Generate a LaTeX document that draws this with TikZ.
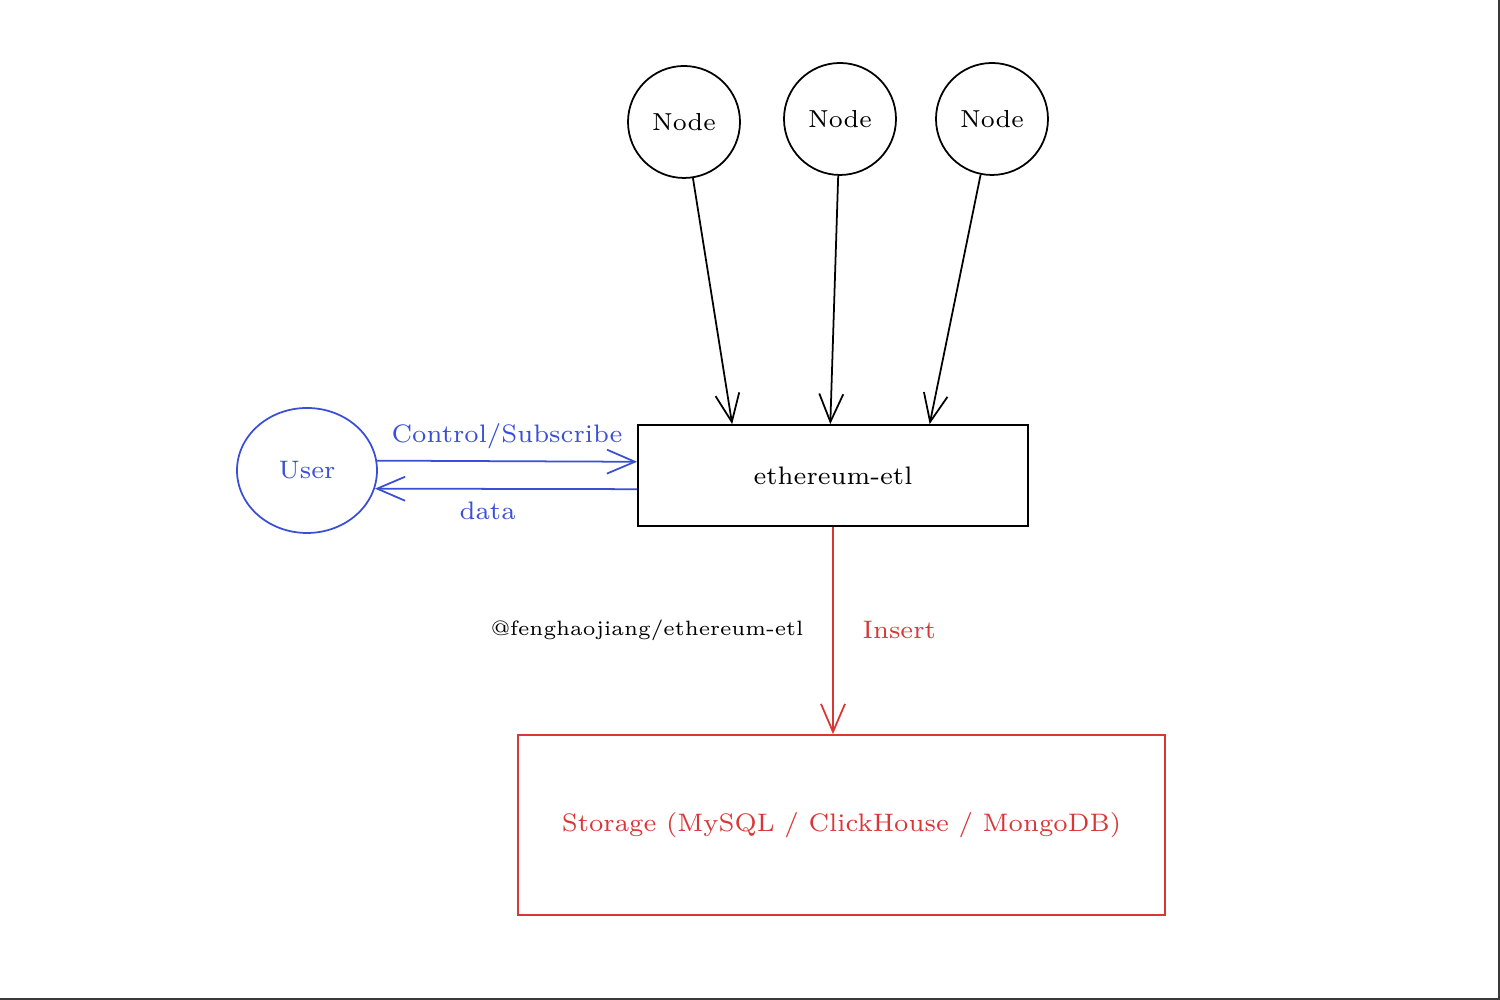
\documentclass[tikz,border=0pt]{standalone}
\usepackage{tikz}
\usetikzlibrary{arrows.meta,positioning,shapes.geometric}
\definecolor{userblue}{HTML}{3B4FD6}
\definecolor{storered}{HTML}{D93636}
\definecolor{framegray}{HTML}{3A3A3A}

\begin{document}
\begin{tikzpicture}
[peer/.style={circle,draw=black,line width=0.5pt,minimum size=1.12cm,inner sep=0pt,font=\fontsize{7}{9}\selectfont},
 box/.style={rectangle,draw=black,line width=0.5pt,inner sep=0pt},
 flow/.style={line width=0.5pt,-{Straight Barb[length=2.8mm,width=2.4mm]}},
 tag/.style={font=\fontsize{7.2}{9}\selectfont}]
\useasboundingbox (0,0) rectangle (15,10);
\draw [framegray,line width=1.2pt] (15,10) -- (15,0) -- (0,0);

\node[peer] (n1) at (6.84,8.78) {Node};
\node[peer] (n2) at (8.40,8.81) {Node};
\node[peer] (n3) at (9.92,8.81) {Node};
\node[box,minimum width=3.90cm,minimum height=1.01cm,tag] (etl) at (8.33,5.245) {ethereum-etl};
\node[ellipse,draw=userblue,line width=0.5pt,minimum width=1.40cm,minimum height=1.25cm,inner sep=0pt,text=userblue,tag] (user) at (3.07,5.295) {User};
\node[box,draw=storered,minimum width=6.47cm,minimum height=1.80cm,text=storered,tag] (db) at (8.415,1.75) {Storage (MySQL / ClickHouse / MongoDB)};

\draw [flow] (n1) -- (etl.153.7);
\draw [flow] (n2) -- (etl.93);
\draw [flow] (n3) -- (etl.28);
\draw [flow,userblue] (user.8.5) -- node[above,tag] {Control/Subscribe} (etl.176);
\draw [flow,userblue] (etl.184.5) -- node[below,pos=0.57,tag] {data} (user.-15.4);
\draw [flow,storered] (etl.south) -- node[right=0.17cm,tag] {Insert} node[left=0.17cm,font=\fontsize{5.9}{7}\selectfont,text=black] {@fenghaojiang/ethereum-etl} (etl.south |- db.north);
\end{tikzpicture}
\end{document}
